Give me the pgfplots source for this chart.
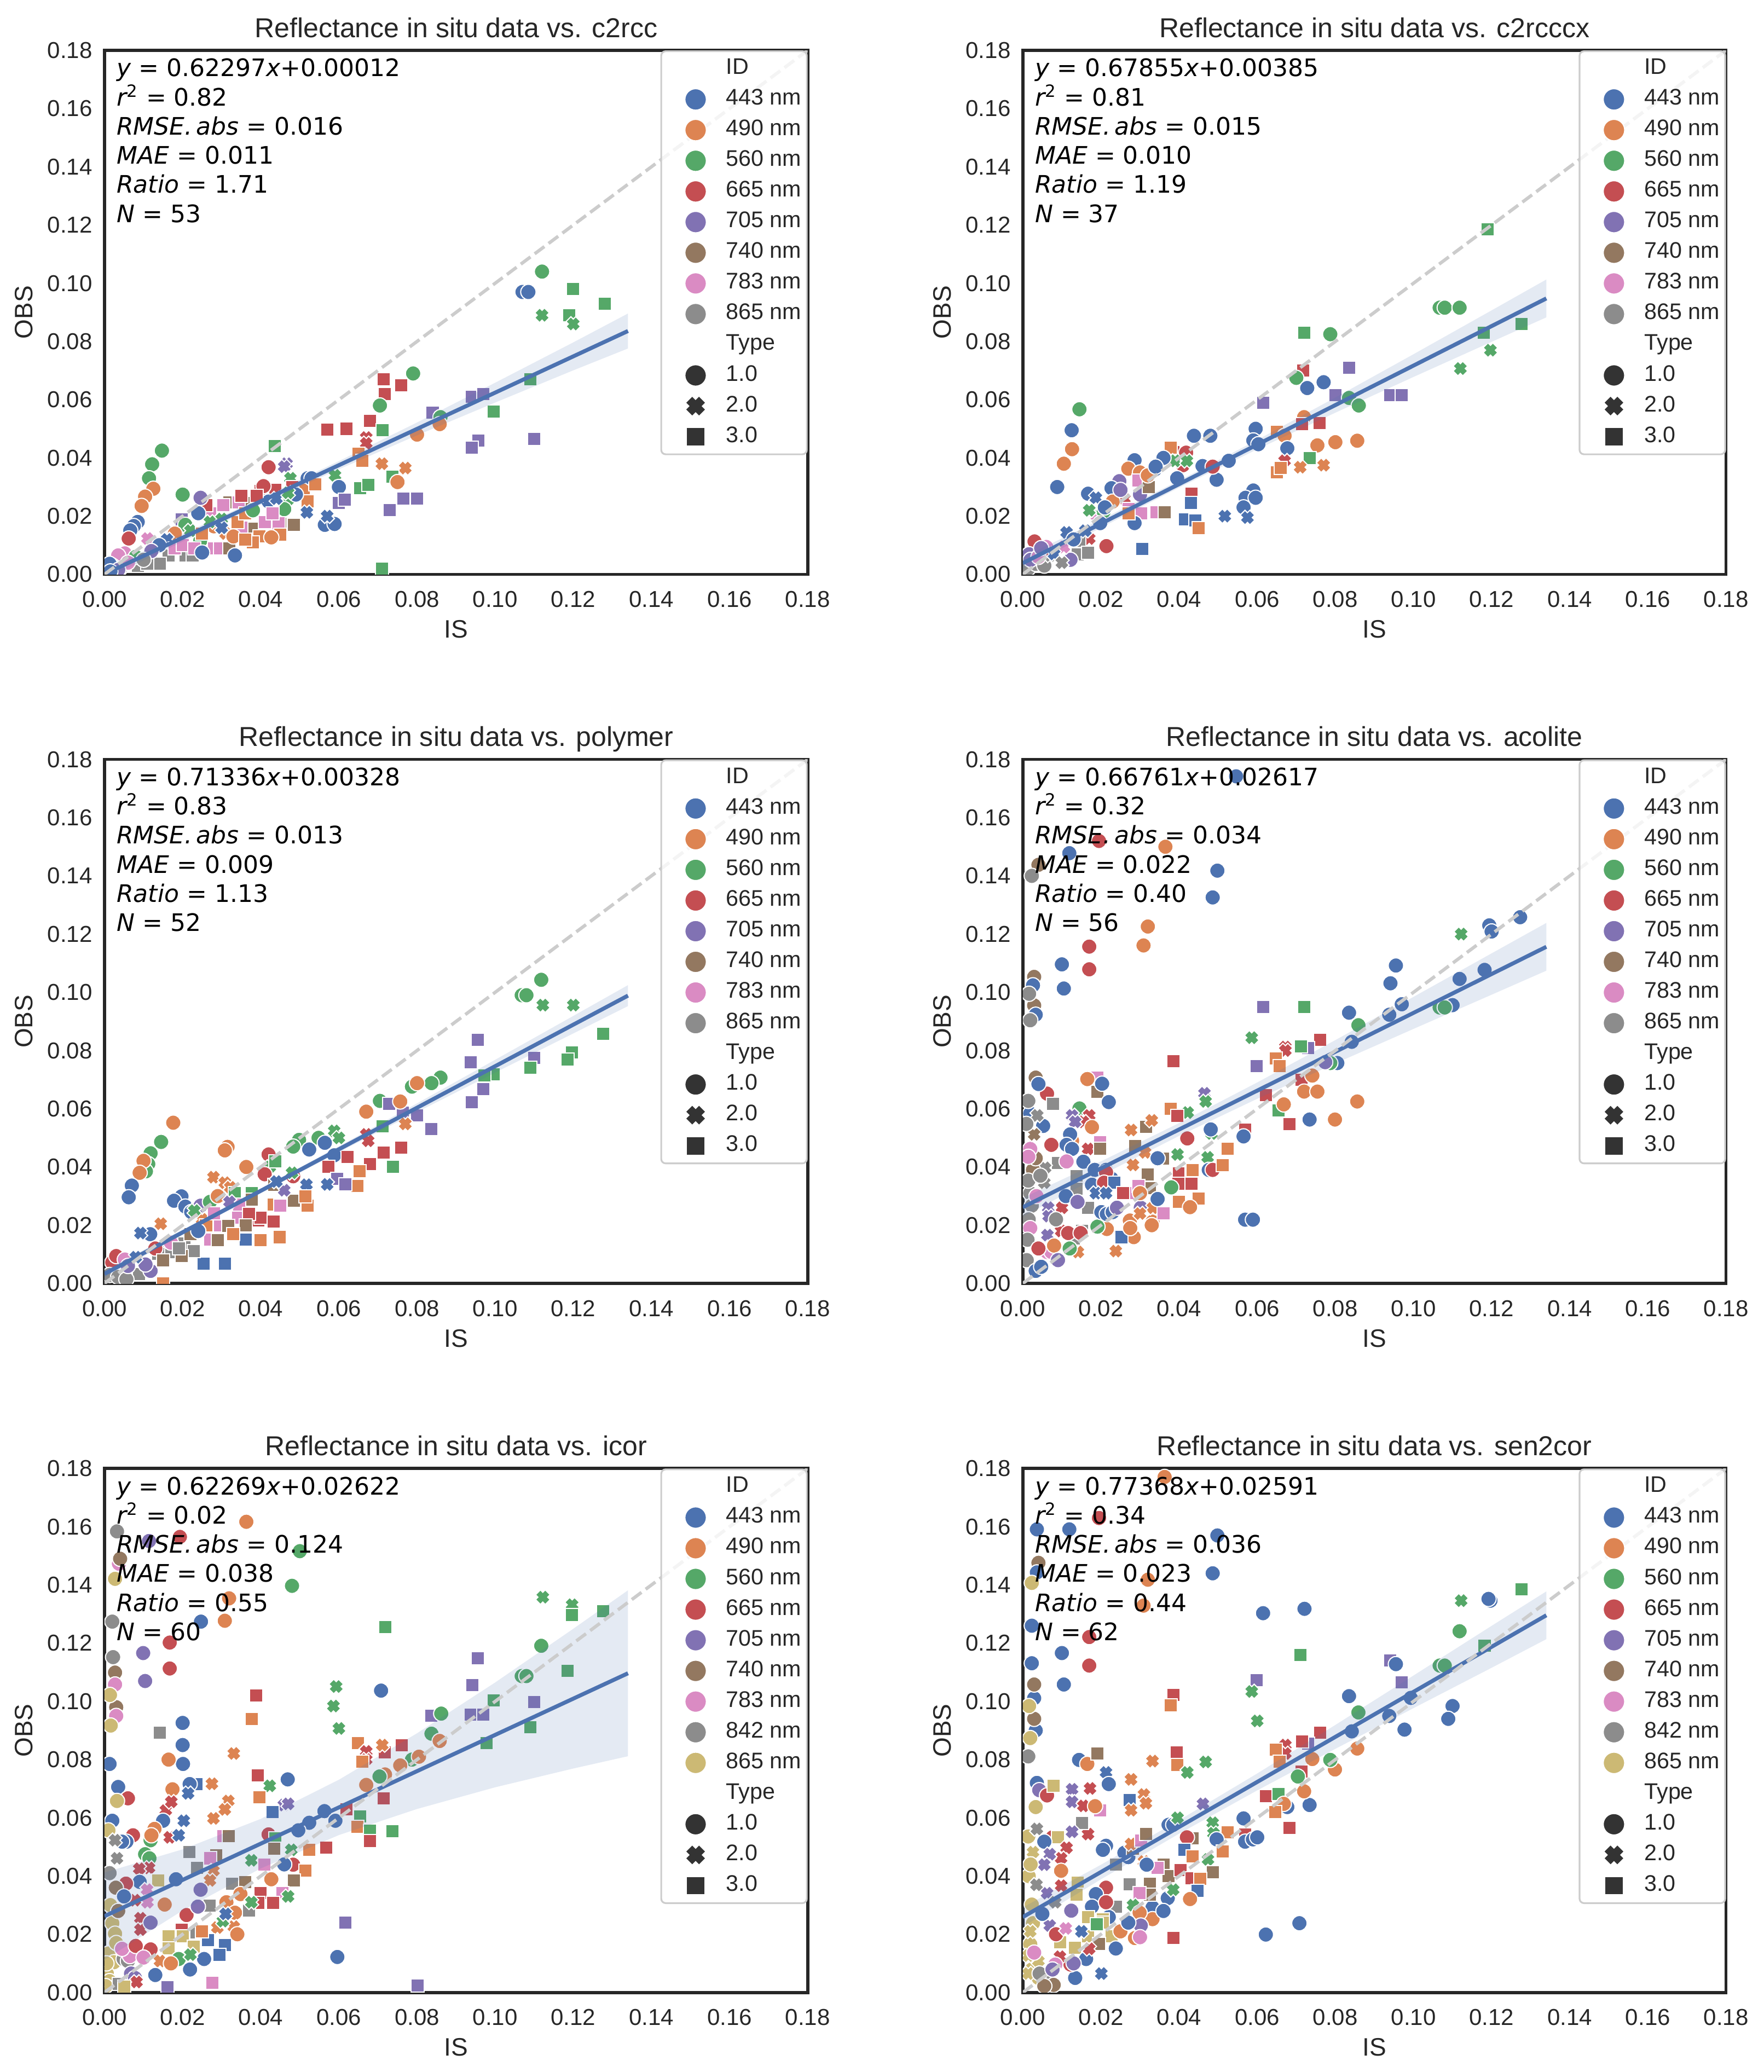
\documentclass[border=0pt]{standalone}
\usepackage{fontspec}
\setmainfont{Liberation Sans}
\newfontfamily\dejavu{DejaVu Sans}
\usepackage{pgfplots}
\usepackage{pgfplotstable}
\pgfplotsset{compat=1.18}
\definecolor{c443}{HTML}{4C72B0}
\definecolor{c490}{HTML}{DD8452}
\definecolor{c560}{HTML}{55A868}
\definecolor{c665}{HTML}{C44E52}
\definecolor{c705}{HTML}{8172B3}
\definecolor{c740}{HTML}{937860}
\definecolor{c783}{HTML}{DA8BC3}
\definecolor{cgray}{HTML}{8C8C8C}
\definecolor{colive}{HTML}{CCB974}
\definecolor{ctype}{HTML}{333333}
\definecolor{ctext}{HTML}{262626}
\pgfdeclareplotmark{Xfill}{%
  \pgfpathmoveto{\pgfqpoint{-0.3006\pgfplotmarksize}{0.9016\pgfplotmarksize}}%
  \pgfpathlineto{\pgfqpoint{0pt}{0.601\pgfplotmarksize}}%
  \pgfpathlineto{\pgfqpoint{0.3006\pgfplotmarksize}{0.9016\pgfplotmarksize}}%
  \pgfpathlineto{\pgfqpoint{0.9016\pgfplotmarksize}{0.3006\pgfplotmarksize}}%
  \pgfpathlineto{\pgfqpoint{0.601\pgfplotmarksize}{0pt}}%
  \pgfpathlineto{\pgfqpoint{0.9016\pgfplotmarksize}{-0.3006\pgfplotmarksize}}%
  \pgfpathlineto{\pgfqpoint{0.3006\pgfplotmarksize}{-0.9016\pgfplotmarksize}}%
  \pgfpathlineto{\pgfqpoint{0pt}{-0.601\pgfplotmarksize}}%
  \pgfpathlineto{\pgfqpoint{-0.3006\pgfplotmarksize}{-0.9016\pgfplotmarksize}}%
  \pgfpathlineto{\pgfqpoint{-0.9016\pgfplotmarksize}{-0.3006\pgfplotmarksize}}%
  \pgfpathlineto{\pgfqpoint{-0.601\pgfplotmarksize}{0pt}}%
  \pgfpathlineto{\pgfqpoint{-0.9016\pgfplotmarksize}{0.3006\pgfplotmarksize}}%
  \pgfpathclose
  \pgfusepathqfillstroke
}
\tikzset{
  mk1/.style={mark=*, mark size=3.5pt, line width=0.5pt, draw=white},
  mk2/.style={mark=Xfill, mark size=3.7pt, line width=0.5pt, draw=white},
  mk3/.style={mark=square*, mark size=3.0pt, line width=0.5pt, draw=white},
}
\pgfplotsset{
  allclasses/.style={scatter/classes={
    B1={mk1,fill=c443},B2={mk2,fill=c443},B3={mk3,fill=c443},
    O1={mk1,fill=c490},O2={mk2,fill=c490},O3={mk3,fill=c490},
    G1={mk1,fill=c560},G2={mk2,fill=c560},G3={mk3,fill=c560},
    R1={mk1,fill=c665},R2={mk2,fill=c665},R3={mk3,fill=c665},
    P1={mk1,fill=c705},P2={mk2,fill=c705},P3={mk3,fill=c705},
    N1={mk1,fill=c740},N2={mk2,fill=c740},N3={mk3,fill=c740},
    K1={mk1,fill=c783},K2={mk2,fill=c783},K3={mk3,fill=c783},
    Y1={mk1,fill=cgray},Y2={mk2,fill=cgray},Y3={mk3,fill=cgray},
    L1={mk1,fill=colive},L2={mk2,fill=colive},L3={mk3,fill=colive}}},
  legmark/.style={only marks, legend image code/.code={%
    \path[draw=none, fill=none] (-13.2pt,-5pt) rectangle (6pt,5pt);%
    \draw[##1, sharp corners, fill opacity=1, mark options={scale=1.4, fill opacity=1}] plot coordinates {(0pt,0pt)};}},
  panel/.style={
    scale only axis, width=321pt, height=239.2pt,
    xmin=0, xmax=0.18, ymin=0, ymax=0.18,
    xtick={0,0.02,0.04,0.06,0.08,0.1,0.12,0.14,0.16,0.18},
    ytick={0,0.02,0.04,0.06,0.08,0.1,0.12,0.14,0.16,0.18},
    xticklabels={0.00,0.02,0.04,0.06,0.08,0.10,0.12,0.14,0.16,0.18},
    yticklabels={0.00,0.02,0.04,0.06,0.08,0.10,0.12,0.14,0.16,0.18},
    major tick length=0pt,
    axis line style={draw=ctext, line width=1.4pt},
    tick label style={font=\fontsize{10.5}{12}\selectfont, text=ctext},
    xticklabel style={anchor=base, inner sep=0pt, yshift=-15pt},
    yticklabel style={anchor=east, inner sep=0pt, xshift=-5.4pt},
    every axis x label/.style={at={(axis description cs:0.5,0)}, anchor=base, yshift=-29pt, font=\fontsize{11.5}{13}\selectfont, text=ctext},
    every axis y label/.style={at={(axis description cs:-0.1146,0.5)}, rotate=90, anchor=center, font=\fontsize{11.5}{13}\selectfont, text=ctext},
    every axis title/.style={at={(axis description cs:0.5,1)}, anchor=base, yshift=6pt, font=\fontsize{12.5}{14}\selectfont, text=ctext},
    xlabel=IS, ylabel=OBS,
    clip marker paths=true,
    legend cell align=left,
    legend style={at={(1,1)}, anchor=north east, draw=black!20, fill=white, fill opacity=0.8, text opacity=1, draw opacity=1, rounded corners=2pt, line width=0.8pt, inner xsep=2.5pt, inner ysep=3pt, row sep=4.0pt, font=\fontsize{10.3}{12}\selectfont, text=ctext, nodes={inner sep=0pt, text height=7.5pt, text depth=2.5pt}, /tikz/every odd column/.append style={column sep=7.9pt}},
  },
  pts/.style={scatter, only marks, scatter src=explicit symbolic, allclasses, forget plot},
  band/.style={fill=c443, fill opacity=0.15, draw=none, forget plot},
  reg/.style={c443, line width=1.8pt, forget plot},
  oneone/.style={black!20, dash pattern=on 5.5pt off 2.4pt, line width=1.5pt, forget plot},
}
\newcommand{\legA}{%
  \addlegendimage{empty legend}\addlegendentry{ID}
  \addlegendimage{legmark,mk1,fill=c443}\addlegendentry{443 nm}
  \addlegendimage{legmark,mk1,fill=c490}\addlegendentry{490 nm}
  \addlegendimage{legmark,mk1,fill=c560}\addlegendentry{560 nm}
  \addlegendimage{legmark,mk1,fill=c665}\addlegendentry{665 nm}
  \addlegendimage{legmark,mk1,fill=c705}\addlegendentry{705 nm}
  \addlegendimage{legmark,mk1,fill=c740}\addlegendentry{740 nm}
  \addlegendimage{legmark,mk1,fill=c783}\addlegendentry{783 nm}
  \addlegendimage{legmark,mk1,fill=cgray}\addlegendentry{865 nm}
  \addlegendimage{empty legend}\addlegendentry{Type}
  \addlegendimage{legmark,mk1,fill=ctype}\addlegendentry{1.0}
  \addlegendimage{legmark,mk2,fill=ctype}\addlegendentry{2.0}
  \addlegendimage{legmark,mk3,fill=ctype}\addlegendentry{3.0}
}
\newcommand{\legB}{%
  \addlegendimage{empty legend}\addlegendentry{ID}
  \addlegendimage{legmark,mk1,fill=c443}\addlegendentry{443 nm}
  \addlegendimage{legmark,mk1,fill=c490}\addlegendentry{490 nm}
  \addlegendimage{legmark,mk1,fill=c560}\addlegendentry{560 nm}
  \addlegendimage{legmark,mk1,fill=c665}\addlegendentry{665 nm}
  \addlegendimage{legmark,mk1,fill=c705}\addlegendentry{705 nm}
  \addlegendimage{legmark,mk1,fill=c740}\addlegendentry{740 nm}
  \addlegendimage{legmark,mk1,fill=c783}\addlegendentry{783 nm}
  \addlegendimage{legmark,mk1,fill=cgray}\addlegendentry{842 nm}
  \addlegendimage{legmark,mk1,fill=colive}\addlegendentry{865 nm}
  \addlegendimage{empty legend}\addlegendentry{Type}
  \addlegendimage{legmark,mk1,fill=ctype}\addlegendentry{1.0}
  \addlegendimage{legmark,mk2,fill=ctype}\addlegendentry{2.0}
  \addlegendimage{legmark,mk3,fill=ctype}\addlegendentry{3.0}
}
\newcommand{\stats}[6]{%
  \node[anchor=north west, align=left, inner sep=0pt, font=\dejavu\fontsize{11}{13.3}\selectfont, text=black]
   at (axis description cs:0.0168,0.985)
   {{\itshape y} = #1\\{\itshape r}\textsuperscript{2} = #2\\{\itshape RMSE.\,abs} = #3\\{\itshape MAE} = #4\\{\itshape Ratio} = #5\\{\itshape N} = #6};}

% ---------------- data ----------------
\pgfplotstableread{
x y c
0.112 0.104 G1
0.107 0.097 B1
0.1085 0.097 B1
0.120 0.098 G3
0.128 0.093 G3
0.112 0.089 G2
0.119 0.089 G3
0.120 0.086 G2
0.079 0.069 G1
0.0715 0.067 R3
0.076 0.065 R3
0.0717 0.062 R3
0.109 0.067 G3
0.094 0.061 P3
0.097 0.062 P3
0.0705 0.058 G1
0.068 0.0527 R3
0.084 0.0555 P3
0.0996 0.056 G3
0.086 0.054 G1
0.0858 0.0516 O1
0.057 0.0498 R3
0.062 0.050 R3
0.0712 0.0495 G3
0.080 0.048 O1
0.067 0.047 R2
0.067 0.045 R2
0.0957 0.046 P3
0.094 0.0436 P3
0.110 0.0466 P3
0.065 0.0415 O3
0.066 0.039 O3
0.0436 0.044 G3
0.042 0.0368 R1
0.0466 0.038 P2
0.046 0.037 P2
0.071 0.038 O2
0.077 0.0365 O2
0.0737 0.0335 G3
0.075 0.0317 O1
0.052 0.033 B1
0.059 0.034 G2
0.060 0.030 B1
0.0655 0.0296 G3
0.0676 0.0307 G3
0.051 0.029 O3
0.052 0.025 O3
0.060 0.0245 P3
0.0615 0.0257 P3
0.0765 0.026 P3
0.080 0.026 P3
0.073 0.022 P3
0.0564 0.017 B1
0.0589 0.0173 B1
0.0518 0.0213 B2
0.057 0.020 B2
0.0476 0.033 G2
0.047 0.0257 G2
0.046 0.0224 G1
0.040 0.0286 R3
0.0437 0.029 R3
0.048 0.030 R3
0.0407 0.0303 R1
0.049 0.0274 B1
0.0485 0.017 N3
0.045 0.0173 N3
0.0377 0.0156 N3
0.041 0.018 K3
0.0445 0.0175 K3
0.035 0.016 K3
0.0397 0.013 O3
0.038 0.011 O3
0.045 0.0137 O3
0.0427 0.0127 O1
0.0358 0.0245 N3
0.032 0.0248 N3
0.0344 0.0248 K3
0.0304 0.0238 K3
0.027 0.021 K3
0.026 0.0238 R3
0.0246 0.0263 P1
0.020 0.0274 G1
0.0197 0.0188 P3
0.024 0.021 B1
0.0245 0.0115 G1
0.0207 0.017 G1
0.028 0.0089 K3
0.0296 0.0089 K3
0.032 0.0089 N3
0.028 0.0165 O1
0.031 0.014 O2
0.033 0.013 O1
0.0334 0.0065 B1
0.0207 0.0065 Y3
0.0226 0.0065 Y3
0.0164 0.0065 Y3
0.0142 0.0036 Y3
0.0086 0.0029 Y3
0.011 0.0036 Y3
0.0147 0.0425 G1
0.0122 0.0378 G1
0.0114 0.033 G1
0.0125 0.0294 O1
0.0104 0.0267 O1
0.0095 0.0235 O1
0.0085 0.018 B1
0.0075 0.0166 B1
0.0066 0.0151 B1
0.0062 0.0123 R1
0.011 0.0123 K2
0.0052 0.0072 K1
0.0035 0.0065 K1
0.002 0.003 Y1
0.004 0.002 Y1
0.0013 0.0036 B1
0.071 0.002 G3
0.018 0.014 O1
0.016 0.012 B2
0.022 0.015 G2
0.027 0.018 G2
0.030 0.019 G2
0.034 0.018 O3
0.036 0.021 O3
0.038 0.022 G1
0.042 0.025 B1
0.044 0.026 B2
0.039 0.027 R3
0.025 0.014 O3
0.014 0.010 B1
0.012 0.008 P1
0.008 0.006 G1
0.006 0.004 K1
0.010 0.005 Y1
0.018 0.009 K3
0.020 0.010 K3
0.023 0.009 K3
0.030 0.016 B2
0.035 0.027 R3
0.047 0.028 G2
0.053 0.033 B1
0.054 0.031 O3
0.043 0.021 K3
0.036 0.012 O3
0.025 0.0075 B1
0.0035 0.0015 P1
0.0015 0.001 B1
}\tA
\pgfplotstableread{
x y c
0.119 0.1186 G3
0.1067 0.0916 G1
0.108 0.0916 G1
0.1118 0.0916 G1
0.1276 0.086 G3
0.118 0.083 G3
0.1197 0.077 G2
0.112 0.0707 G2
0.072 0.083 G3
0.0787 0.0825 G1
0.0835 0.071 P3
0.0717 0.070 R3
0.070 0.0675 G1
0.077 0.066 B1
0.0728 0.064 B1
0.080 0.0616 P3
0.094 0.0616 P3
0.097 0.0616 P3
0.0835 0.0606 G1
0.086 0.058 G1
0.0615 0.0589 P3
0.0145 0.0567 G1
0.0125 0.0495 B1
0.0596 0.050 B1
0.059 0.046 B1
0.0603 0.0447 B1
0.0438 0.0476 B1
0.048 0.0476 B1
0.065 0.049 O3
0.067 0.0476 O1
0.072 0.054 O1
0.0715 0.0516 R3
0.076 0.052 R3
0.0126 0.043 O1
0.0105 0.038 O1
0.0677 0.0433 B1
0.0754 0.0443 O1
0.080 0.0454 O1
0.0856 0.0459 O1
0.0735 0.040 G3
0.0385 0.042 R3
0.0378 0.0436 O3
0.0418 0.0418 R1
0.041 0.0375 R1
0.039 0.039 G2
0.042 0.039 G2
0.046 0.0372 B1
0.0527 0.039 B1
0.0286 0.0392 B1
0.0338 0.036 B1
0.0395 0.033 B1
0.0496 0.0325 B1
0.067 0.039 R2
0.071 0.0368 O2
0.077 0.0375 O2
0.065 0.035 O3
0.066 0.0365 O3
0.0486 0.037 R1
0.027 0.0363 O1
0.030 0.035 O1
0.0247 0.032 P1
0.024 0.0277 P1
0.030 0.0274 P1
0.0296 0.0323 K3
0.0323 0.030 N3
0.0088 0.030 B1
0.0167 0.0277 B1
0.0227 0.0296 B1
0.0187 0.0263 B2
0.0432 0.0277 R3
0.043 0.0245 B3
0.026 0.026 R2
0.059 0.0288 B1
0.057 0.0263 B1
0.0596 0.0263 B1
0.0565 0.023 B1
0.0517 0.020 B2
0.0575 0.0195 B2
0.0415 0.0188 B3
0.0442 0.0185 B3
0.045 0.0159 O3
0.019 0.021 K3
0.0303 0.021 K3
0.0342 0.0213 K3
0.027 0.0224 K3
0.0363 0.0213 N3
0.0207 0.0216 G1
0.0286 0.0176 B1
0.0198 0.0176 B1
0.027 0.021 O3
0.0306 0.0087 B3
0.0112 0.0144 B2
0.003 0.0113 R1
0.0214 0.0097 R1
0.017 0.0123 R2
0.0144 0.0115 Y3
0.014 0.0069 Y3
0.0167 0.0075 Y3
0.0016 0.0069 P1
0.0122 0.005 P1
0.0105 0.0094 K2
0.006 0.0094 K1
0.0014 0.002 Y1
0.0033 0.0036 Y1
0.0055 0.003 Y1
0.007 0.0065 Y2
0.002 0.005 P1
0.005 0.008 R1
0.008 0.007 B2
0.013 0.012 B1
0.016 0.015 B2
0.010 0.004 Y2
0.004 0.006 K1
0.023 0.025 O1
0.025 0.029 P1
0.032 0.034 O1
0.036 0.040 B1
0.034 0.037 B1
0.0047 0.009 P1
0.017 0.022 G2
0.021 0.023 B1
}\tB
\pgfplotstableread{
x y c
0.1118 0.1043 G1
0.1068 0.099 G1
0.108 0.099 G1
0.1122 0.0956 G2
0.120 0.0956 G2
0.1276 0.0858 G3
0.1196 0.0793 G3
0.1186 0.0769 G3
0.0955 0.0837 P3
0.0938 0.076 P3
0.110 0.0775 P3
0.0996 0.0718 G3
0.0973 0.0714 G3
0.109 0.074 G3
0.097 0.0668 P3
0.094 0.0623 P3
0.086 0.0707 G1
0.0837 0.0688 G1
0.0787 0.0676 G1
0.080 0.0688 O1
0.0705 0.0627 G1
0.0728 0.0616 P3
0.0764 0.0587 P3
0.080 0.0577 P3
0.0836 0.053 P3
0.067 0.059 O1
0.0757 0.0625 O1
0.077 0.0548 O2
0.0712 0.054 G3
0.067 0.0512 R2
0.0675 0.049 R2
0.0588 0.0524 G2
0.060 0.050 G2
0.0548 0.050 G1
0.0498 0.0493 G1
0.0483 0.047 G1
0.0524 0.046 B1
0.0564 0.0483 B1
0.0588 0.044 B1
0.0622 0.0435 R3
0.0573 0.040 R3
0.068 0.041 R3
0.0715 0.045 R3
0.076 0.0466 R3
0.0738 0.040 G3
0.0653 0.0385 O3
0.0647 0.0335 O3
0.0596 0.036 P3
0.0616 0.034 P3
0.057 0.034 B2
0.0517 0.0339 B2
0.0176 0.0552 O1
0.0145 0.0486 G1
0.0118 0.0447 G1
0.0112 0.041 G1
0.0106 0.0385 G1
0.010 0.0421 O1
0.009 0.038 O1
0.007 0.0336 B1
0.0062 0.0296 B1
0.0315 0.0469 O1
0.0308 0.0457 O1
0.042 0.0443 R1
0.0363 0.040 O1
0.0423 0.040 G2
0.0437 0.042 G3
0.0197 0.0299 B1
0.0178 0.0284 B1
0.0207 0.0264 B1
0.0222 0.0245 B1
0.0279 0.0365 O2
0.0308 0.0346 O2
0.0322 0.033 O2
0.041 0.0375 R1
0.0483 0.0368 R1
0.0334 0.031 G3
0.0377 0.031 G3
0.0435 0.0339 N3
0.0377 0.0288 N3
0.0485 0.0284 N3
0.0433 0.027 O3
0.052 0.0267 O3
0.0514 0.0299 O3
0.045 0.0267 K3
0.0345 0.027 K3
0.0342 0.0226 K3
0.0296 0.020 K3
0.027 0.0151 K3
0.0394 0.0216 R3
0.0399 0.0225 R3
0.0433 0.0212 R3
0.0370 0.0238 R3
0.0361 0.020 N3
0.0317 0.0198 N3
0.029 0.0149 N3
0.0246 0.0267 P1
0.0361 0.0151 B3
0.0308 0.0068 B3
0.0253 0.0068 B3
0.0399 0.0149 O3
0.0449 0.0159 O3
0.0117 0.0169 B1
0.0092 0.0173 B2
0.0144 0.0205 O2
0.0204 0.0137 Y3
0.0165 0.0108 Y3
0.0229 0.0111 Y3
0.0138 0.0101 Y3
0.0088 0.0033 Y3
0.0197 0.0094 N3
0.002 0.0072 R1
0.003 0.0094 R1
0.0052 0.0082 K1
0.0118 0.0043 P1
0.0105 0.0065 P1
0.0013 0.0029 Y1
0.0035 0.0022 Y1
0.0056 0.0014 Y1
0.015 0.0001 O3
0.025 0.022 O2
0.023 0.025 G2
0.027 0.028 G1
0.029 0.030 O1
0.032 0.028 P2
0.046 0.032 P2
0.048 0.038 G2
0.044 0.035 B2
0.022 0.017 N3
0.026 0.020 O3
0.017 0.014 K1
0.013 0.012 R1
0.008 0.009 B2
0.006 0.006 P1
0.015 0.008 N3
0.019 0.012 Y3
0.024 0.018 B1
0.033 0.017 O3
0.028 0.024 K3
}\tC
\pgfplotstableread{
x y c
0.0546 0.1742 B1
0.0195 0.152 R1
0.0365 0.150 O1
0.0119 0.1478 B1
0.004 0.1438 N1
0.0023 0.140 Y1
0.0498 0.1418 B1
0.0486 0.1326 B1
0.032 0.1226 O1
0.0309 0.1161 O1
0.017 0.1157 R1
0.017 0.1079 R1
0.010 0.1096 B1
0.0105 0.1013 B1
0.0029 0.1053 N1
0.0029 0.0955 N1
0.0026 0.1024 B1
0.0033 0.0923 B1
0.0016 0.0995 Y1
0.0019 0.0904 Y1
0.1273 0.1258 B1
0.1194 0.123 B1
0.120 0.1209 B1
0.1122 0.120 G2
0.0955 0.1092 B1
0.0941 0.1031 B1
0.1118 0.1046 B1
0.1182 0.1077 B1
0.097 0.0959 B1
0.0938 0.0923 B1
0.110 0.0956 B1
0.1067 0.0948 G1
0.108 0.0948 G1
0.0835 0.093 B1
0.0859 0.0887 G1
0.0842 0.083 B1
0.0805 0.0757 B1
0.0615 0.0949 P3
0.0721 0.0949 G3
0.0586 0.0844 G2
0.0761 0.0837 R3
0.0672 0.0812 R2
0.0672 0.080 R2
0.073 0.0808 P3
0.0712 0.0815 G3
0.0648 0.0772 O3
0.0658 0.0747 O3
0.0598 0.0746 P3
0.0787 0.0757 G1
0.0774 0.076 P1
0.0386 0.0764 R3
0.0714 0.070 R3
0.0741 0.0714 O1
0.072 0.0659 O1
0.0754 0.0659 O1
0.0622 0.0646 R3
0.0856 0.0625 O1
0.0654 0.0594 G3
0.0668 0.0615 O1
0.0799 0.0563 O1
0.0734 0.0563 B1
0.0682 0.0548 R3
0.0465 0.0653 P2
0.0468 0.0625 G2
0.0422 0.0587 G2
0.0378 0.0599 O3
0.0395 0.0576 R3
0.0569 0.0529 R3
0.0483 0.0515 G2
0.0481 0.0529 B1
0.0565 0.0505 B1
0.0421 0.0498 R1
0.0524 0.0462 O3
0.0316 0.0538 N3
0.0277 0.0527 O2
0.0330 0.056 O2
0.0287 0.0472 N3
0.0396 0.0443 G2
0.0473 0.0433 G2
0.0359 0.0428 N3
0.0313 0.045 O2
0.0282 0.0407 O2
0.0476 0.039 B1
0.0345 0.043 B1
0.0486 0.039 R1
0.0511 0.0407 O3
0.040 0.0378 R3
0.0432 0.0378 R3
0.0398 0.0343 R3
0.0432 0.0343 R3
0.0435 0.039 O3
0.032 0.0375 N3
0.0325 0.0327 N3
0.040 0.0281 O3
0.045 0.0291 O3
0.0428 0.0262 O1
0.0332 0.0212 O1
0.0274 0.0216 O1
0.0215 0.0187 O1
0.0284 0.0159 O1
0.0569 0.0219 B1
0.0589 0.0219 B1
0.0238 0.0111 O2
0.0141 0.0108 O2
0.0253 0.0159 B3
0.0191 0.0195 G1
0.0191 0.0707 K3
0.0198 0.0486 K3
0.0277 0.031 K3
0.0296 0.0335 K3
0.0191 0.0659 N3
0.0165 0.0702 O1
0.022 0.0623 B1
0.0203 0.0686 B1
0.0145 0.0601 G1
0.0062 0.0652 R1
0.0078 0.0617 Y3
0.0033 0.0707 N1
0.004 0.0685 B1
0.0052 0.0541 B1
0.0019 0.0584 B1
0.017 0.0577 R2
0.0155 0.0555 R2
0.0126 0.0577 P2
0.0134 0.0555 P2
0.0177 0.0537 O1
0.0126 0.049 O1
0.0121 0.0512 B1
0.0112 0.0476 B1
0.0126 0.0462 B1
0.0073 0.0476 R1
0.0167 0.0462 R2
0.0198 0.0462 N3
0.0155 0.0418 B1
0.0184 0.039 B1
0.0213 0.039 B1
0.0177 0.0339 B1
0.0227 0.036 B1
0.009 0.0414 Y3
0.0138 0.0368 Y3
0.0138 0.0325 Y3
0.0167 0.026 Y3
0.0151 0.018 Y3
0.0131 0.0155 Y3
0.0112 0.0419 K1
0.0213 0.0382 R1
0.0208 0.0346 R1
0.0234 0.0346 B3
0.0256 0.031 R3
0.0187 0.031 B2
0.0213 0.031 B2
0.0201 0.0245 B1
0.0215 0.0238 B1
0.023 0.0245 B1
0.0241 0.026 P1
0.0302 0.026 P1
0.0333 0.026 O2
0.010 0.026 R2
0.0098 0.018 R2
0.0065 0.026 P2
0.0066 0.0231 P2
0.0063 0.0166 P2
0.0116 0.0173 R1
0.0148 0.0173 R1
0.0062 0.0108 K1
0.0073 0.0108 K1
0.0057 0.0397 Y2
0.0055 0.0346 Y2
0.0026 0.039 N1
0.0033 0.043 N1
0.0019 0.031 Y1
0.0014 0.0353 Y1
0.0023 0.0267 Y1
0.0015 0.022 Y1
0.0019 0.019 K1
0.0012 0.015 Y1
0.0010 0.008 Y1
0.0019 0.0462 K1
0.0014 0.0435 K1
0.0029 0.0512 N2
0.0037 0.0577 Y2
0.0009 0.0548 Y1
0.0014 0.0627 Y1
0.0033 0.0043 B1
0.0047 0.0057 B1
0.008 0.013 O1
0.009 0.008 P1
0.004 0.012 R1
0.0035 0.030 K1
0.0045 0.037 Y1
0.0110 0.030 B1
0.0140 0.028 P1
0.0085 0.022 Y1
0.012 0.012 G1
0.0345 0.029 B1
0.030 0.024 O2
0.036 0.024 K3
0.033 0.020 O1
0.0275 0.019 O1
0.038 0.033 G1
0.030 0.031 O1
}\tD
\pgfplotstableread{
x y c
0.0363 0.1617 O1
0.0032 0.1584 Y1
0.0193 0.1565 R1
0.0114 0.1551 P1
0.050 0.1516 G1
0.0037 0.1473 K1
0.004 0.149 N1
0.0027 0.1421 L1
0.048 0.1397 G1
0.0319 0.1354 O1
0.002 0.1274 Y1
0.0247 0.1274 B1
0.0308 0.1277 O1
0.0167 0.1202 R1
0.0167 0.1113 R1
0.0099 0.1166 P1
0.0104 0.107 P1
0.0022 0.1152 Y1
0.0027 0.1099 N1
0.003 0.098 N1
0.0027 0.1058 K1
0.003 0.095 K1
0.0014 0.1022 L1
0.0016 0.0917 L1
0.1122 0.1358 G2
0.1197 0.1332 G2
0.1196 0.1296 G3
0.1276 0.131 G3
0.0719 0.1256 G3
0.1118 0.1191 G1
0.0955 0.1148 P3
0.0941 0.1056 P3
0.1068 0.1087 G1
0.108 0.1087 G1
0.1186 0.1105 G3
0.0708 0.1037 B1
0.0593 0.1051 G2
0.0586 0.0984 G2
0.060 0.0907 G2
0.0388 0.102 R3
0.0377 0.094 O3
0.0142 0.0893 Y3
0.020 0.0926 B1
0.020 0.085 B1
0.0201 0.0785 B1
0.0164 0.080 O1
0.0013 0.0785 B1
0.0331 0.0821 O2
0.0996 0.1004 G3
0.110 0.0998 P3
0.0837 0.095 P3
0.0938 0.0955 P3
0.097 0.0955 P3
0.0862 0.0958 G1
0.0837 0.0889 G1
0.0858 0.0864 O1
0.109 0.0912 G3
0.0978 0.0857 G3
0.0649 0.0857 O3
0.0761 0.085 R3
0.0718 0.0825 R3
0.0711 0.085 O2
0.067 0.0828 R2
0.067 0.080 R2
0.066 0.0792 O3
0.0787 0.080 G1
0.0805 0.081 O1
0.0757 0.078 O1
0.0718 0.0749 O1
0.067 0.0713 O1
0.0704 0.0742 G1
0.0469 0.0732 B1
0.0393 0.0746 R3
0.0235 0.0716 B3
0.0218 0.0716 B1
0.0275 0.0717 O2
0.0423 0.071 G2
0.0035 0.0706 B1
0.006 0.0667 R1
0.0032 0.0658 L1
0.0174 0.0698 O1
0.0214 0.0684 B2
0.0715 0.0667 R3
0.0397 0.067 O3
0.0459 0.0644 P2
0.047 0.0648 P2
0.0317 0.0658 O2
0.0308 0.0629 O2
0.043 0.0619 B3
0.0157 0.0626 R2
0.0171 0.0655 R2
0.062 0.0629 R3
0.0563 0.0623 B1
0.0524 0.0583 B1
0.0591 0.059 B1
0.0496 0.0557 B1
0.0655 0.0605 G3
0.0203 0.059 B2
0.0279 0.0598 O2
0.015 0.059 B1
0.002 0.059 B1
0.0128 0.0562 O1
0.0647 0.0569 O3
0.0737 0.0554 G3
0.068 0.0555 G3
0.0679 0.0521 R3
0.0073 0.054 R1
0.0167 0.0533 R2
0.019 0.054 B2
0.001 0.0557 L1
0.0118 0.0523 G1
0.012 0.054 O1
0.0056 0.0518 B1
0.0045 0.0518 B1
0.0027 0.0523 Y2
0.0032 0.0461 Y2
0.0304 0.0537 K3
0.0318 0.0537 N3
0.0568 0.0497 R3
0.0524 0.049 O3
0.042 0.0543 R1
0.0437 0.0529 G3
0.0217 0.0482 Y3
0.0286 0.0471 N3
0.0435 0.0494 N3
0.027 0.0461 K3
0.0478 0.049 G2
0.0376 0.0454 G2
0.0104 0.0475 G1
0.0115 0.0461 G1
0.0483 0.0439 R1
0.046 0.044 B1
0.0409 0.0439 K3
0.0514 0.0418 O3
0.0114 0.0428 R2
0.0089 0.0425 R2
0.0237 0.0428 Y3
0.0279 0.0418 O2
0.0013 0.041 Y1
0.0138 0.0385 L3
0.0485 0.0385 N3
0.036 0.038 N3
0.0427 0.0389 O1
0.0327 0.0374 Y3
0.0183 0.0389 B1
0.009 0.038 B1
0.027 0.0385 O2
0.0055 0.0374 R1
0.0029 0.036 N1
0.0109 0.0353 K2
0.0455 0.0341 K3
0.0246 0.0353 P1
0.0399 0.0341 R3
0.0394 0.0307 R3
0.0432 0.0307 R3
0.0348 0.0338 O1
0.0312 0.031 O1
0.0334 0.0274 O1
0.037 0.0281 Y3
0.0269 0.0298 Y3
0.047 0.033 G2
0.0078 0.0317 R2
0.0092 0.0255 R2
0.0092 0.0216 R2
0.011 0.031 K2
0.021 0.0266 R1
0.0239 0.0295 P1
0.0118 0.024 P1
0.0154 0.0302 O1
0.0376 0.031 G2
0.002 0.0238 L1
0.0027 0.0202 L1
0.001 0.0134 L1
0.0024 0.0104 L1
0.0331 0.0226 O2
0.0289 0.0223 O2
0.0303 0.0245 G2
0.0197 0.0216 R3
0.0164 0.0194 L3
0.020 0.0194 L3
0.0164 0.0151 L3
0.0229 0.0158 L3
0.0236 0.0206 Y3
0.0308 0.0163 B3
0.0265 0.018 B3
0.0255 0.0115 B1
0.0219 0.0079 B1
0.019 0.0115 G1
0.0118 0.0148 R1
0.0142 0.0108 O2
0.0049 0.0115 Y1
0.006 0.0108 Y1
0.0065 0.0125 K1
0.0068 0.0065 P1
0.0078 0.005 P1
0.0082 0.0036 R2
0.0161 0.0019 P3
0.0276 0.0033 K3
0.0801 0.0024 P3
0.0596 0.0122 B1
0.0616 0.024 P3
0.0006 0.0065 L1
0.0013 0.0039 L1
0.0003 0.0022 L1
0.0037 0.0029 Y3
0.003 0.017 L1
0.0045 0.015 K1
0.0015 0.030 L1
0.0035 0.028 N1
0.005 0.033 B1
0.008 0.016 R1
0.010 0.012 K1
0.013 0.006 B1
0.017 0.010 O1
0.022 0.013 G2
0.025 0.021 O3
0.031 0.027 B2
0.034 0.020 O1
0.0295 0.013 B3
0.005 0.002 L3
0.0005 0.010 L1
}\tE
\pgfplotstableread{
x y c
0.0363 0.1771 O1
0.0195 0.163 R1
0.0036 0.1591 B1
0.0119 0.1591 B1
0.0498 0.157 B1
0.004 0.1476 N1
0.0036 0.1443 B1
0.0486 0.144 B1
0.032 0.1418 O1
0.0023 0.1407 L1
0.0309 0.1329 O1
0.0615 0.1303 B1
0.0721 0.1318 B1
0.0023 0.126 B1
0.017 0.1221 R1
0.017 0.1123 R1
0.010 0.1166 B1
0.0105 0.1058 B1
0.0023 0.1131 B1
0.0029 0.1011 B1
0.0033 0.09 B1
0.0029 0.1058 N1
0.0029 0.094 N1
0.0016 0.0984 L1
0.0019 0.0874 L1
0.0014 0.0811 Y1
0.1276 0.1385 G3
0.1197 0.1346 B1
0.1192 0.1352 B1
0.1122 0.1346 G2
0.1118 0.1241 G1
0.1182 0.1191 G3
0.1067 0.1123 G1
0.108 0.1123 G1
0.071 0.1159 G3
0.0941 0.1141 P3
0.0955 0.1128 B1
0.097 0.1066 P3
0.0598 0.1073 P3
0.0586 0.1034 G2
0.0835 0.1018 B1
0.0993 0.1012 B1
0.110 0.0984 B1
0.1089 0.094 B1
0.0938 0.095 B1
0.0977 0.0903 B1
0.0842 0.0897 B1
0.0859 0.0962 G1
0.060 0.0933 G2
0.0386 0.1022 R3
0.0378 0.0986 O3
0.0761 0.0893 R3
0.0672 0.085 R2
0.0672 0.0821 R2
0.073 0.0855 P3
0.0715 0.0862 R3
0.0648 0.0835 O3
0.0658 0.0792 O3
0.0741 0.0802 O1
0.0799 0.0766 O1
0.0856 0.0838 O1
0.0787 0.0799 G1
0.0394 0.0824 R3
0.0396 0.0782 O3
0.0332 0.0795 O2
0.0468 0.0792 G2
0.0421 0.0756 G2
0.0144 0.0799 B1
0.0165 0.0785 O1
0.0191 0.0821 N3
0.0213 0.0756 B2
0.022 0.0716 B1
0.0714 0.0759 R3
0.0704 0.0742 G1
0.0277 0.0732 O2
0.0622 0.0674 R3
0.0655 0.0681 G3
0.0677 0.0637 B1
0.0734 0.0644 B1
0.0668 0.0648 O1
0.072 0.0691 O1
0.0646 0.0619 O3
0.0682 0.0565 R3
0.0036 0.072 B1
0.0045 0.0691 B1
0.0042 0.0695 P1
0.0062 0.0677 R1
0.0079 0.071 L3
0.0126 0.0698 P2
0.0172 0.0701 R2
0.0126 0.0655 P2
0.0155 0.0641 R2
0.0167 0.0544 R2
0.0274 0.0662 B3
0.0310 0.068 O2
0.0315 0.065 O2
0.0277 0.0626 O2
0.0198 0.0626 K3
0.0185 0.064 O1
0.0461 0.0648 P2
0.0373 0.0576 B1
0.0385 0.0576 B1
0.0396 0.060 G2
0.0151 0.0583 Y3
0.0033 0.0637 L1
0.0014 0.0536 L1
0.0036 0.0562 Y2
0.0126 0.0552 P2
0.0213 0.0504 B1
0.0205 0.049 B1
0.0076 0.0533 R1
0.009 0.0533 L3
0.0055 0.0518 B1
0.0112 0.0497 R2
0.0098 0.0461 R2
0.0069 0.0475 P2
0.0055 0.0439 P2
0.0026 0.0482 L2
0.027 0.0465 B1
0.026 0.048 B1
0.0282 0.0493 N3
0.0277 0.051 O2
0.0303 0.0523 K3
0.0316 0.0544 N3
0.0524 0.055 O3
0.0569 0.0543 R3
0.0435 0.053 N3
0.042 0.0533 R1
0.0486 0.0583 G2
0.0488 0.0547 G2
0.0496 0.0526 B1
0.0565 0.0598 B1
0.0569 0.0518 B1
0.0589 0.0526 B1
0.060 0.0533 B1
0.0414 0.049 B3
0.0435 0.0468 O3
0.0511 0.0485 O3
0.0474 0.0457 G2
0.0098 0.0418 O1
0.0238 0.0439 Y3
0.0361 0.0439 N3
0.0373 0.0399 N3
0.0486 0.0413 N3
0.0310 0.045 O2
0.0345 0.0428 K3
0.0404 0.042 R3
0.0432 0.0393 R3
0.0454 0.039 O3
0.0317 0.0439 B1
0.0371 0.0324 B1
0.0332 0.0292 B1
0.0447 0.0349 B3
0.0385 0.0353 G2
0.0428 0.0321 O1
0.0141 0.0377 L3
0.0138 0.0336 L3
0.0098 0.0367 R2
0.0273 0.0372 Y3
0.0238 0.0295 Y3
0.0325 0.0374 N3
0.0325 0.0336 N3
0.0299 0.0341 K3
0.0213 0.036 R1
0.0282 0.030 G2
0.0062 0.0341 P2
0.0069 0.023 P2
0.0083 0.031 Y2
0.0124 0.0281 P1
0.0187 0.0338 B1
0.0177 0.0295 B1
0.022 0.0259 B1
0.0213 0.031 R1
0.0167 0.0259 L3
0.0205 0.0252 L3
0.0205 0.024 L3
0.0167 0.0194 L3
0.0134 0.0154 L3
0.0095 0.0173 L3
0.0227 0.0194 L3
0.0190 0.0235 G3
0.0195 0.0166 N3
0.0287 0.0187 O1
0.0332 0.0252 O1
0.0299 0.0274 O1
0.0302 0.023 P1
0.0238 0.0151 B1
0.0162 0.0115 B1
0.0134 0.005 B1
0.0201 0.0065 B2
0.0122 0.0096 R1
0.0095 0.0123 R2
0.0386 0.0187 R3
0.0622 0.0199 B1
0.0708 0.0238 B1
0.0023 0.0302 L1
0.0026 0.0238 L1
0.0019 0.0166 L1
0.0023 0.0079 L1
0.004 0.005 L1
0.0019 0.021 L2
0.0014 0.0127 L2
0.004 0.0108 L2
0.0014 0.0065 L2
0.0057 0.005 Y1
0.0043 0.0065 Y1
0.0079 0.0026 N1
0.0055 0.0022 N1
0.0083 0.0096 K1
0.0029 0.0137 K1
0.0076 0.0079 P1
0.0015 0.040 L1
0.002 0.044 L1
0.0035 0.037 Y2
0.005 0.027 B1
0.0085 0.020 R1
0.011 0.022 K2
0.015 0.021 B2
0.013 0.010 P1
0.017 0.015 R2
0.025 0.021 O1
0.027 0.024 B1
0.036 0.028 B1
0.030 0.019 K1
}\tF

\begin{document}
\begin{tikzpicture}
\path[use as bounding box] (0,0) rectangle (805.1pt,945.9pt);

% ---- panel 1 ----
\begin{axis}[panel, at={(47.7pt,922.9pt)}, anchor=north west, title={Reflectance in situ data vs. c2rcc}]
\addplot[pts] table[meta=c] {\tA};
\addplot[band] coordinates {(0,0.00192)(0.02,0.01388)(0.04,0.02614)(0.06,0.0389)(0.08,0.05216)(0.10,0.06582)(0.12,0.07968)(0.134,0.0896)(0.134,0.0776)(0.12,0.07008)(0.10,0.05902)(0.08,0.04776)(0.06,0.0361)(0.04,0.02394)(0.02,0.01128)(0,-0.00168)} --cycle;
\addplot[reg] coordinates {(0,0.00012)(0.134,0.08360)};
\addplot[oneone] coordinates {(0,0)(0.18,0.18)};
\stats{0.62297{\itshape x}+0.00012}{0.82}{0.016}{0.011}{1.71}{53}
\legA
\end{axis}

% ---- panel 2 ----
\begin{axis}[panel, at={(466.9pt,922.9pt)}, anchor=north west, title={Reflectance in situ data vs. c2rcccx}]
\addplot[pts] table[meta=c] {\tB};
\addplot[band] coordinates {(0,0.00585)(0.02,0.01882)(0.04,0.03219)(0.06,0.04616)(0.08,0.06073)(0.10,0.07561)(0.12,0.09068)(0.134,0.10128)(0.134,0.08828)(0.12,0.07988)(0.10,0.06781)(0.08,0.05553)(0.06,0.04296)(0.04,0.02979)(0.02,0.01602)(0,0.00185)} --cycle;
\addplot[reg] coordinates {(0,0.00385)(0.134,0.09478)};
\addplot[oneone] coordinates {(0,0)(0.18,0.18)};
\stats{0.67855{\itshape x}+0.00385}{0.81}{0.015}{0.010}{1.19}{37}
\legA
\end{axis}

% ---- panel 3 ----
\begin{axis}[panel, at={(47.7pt,599.2pt)}, anchor=north west, title={Reflectance in situ data vs. polymer}]
\addplot[pts] table[meta=c] {\tC};
\addplot[band] coordinates {(0,0.00448)(0.02,0.01845)(0.04,0.03261)(0.06,0.04708)(0.08,0.06185)(0.10,0.07682)(0.12,0.09188)(0.134,0.10247)(0.134,0.09527)(0.12,0.08588)(0.10,0.07242)(0.08,0.05885)(0.06,0.04508)(0.04,0.03101)(0.02,0.01665)(0,0.00208)} --cycle;
\addplot[reg] coordinates {(0,0.00328)(0.134,0.09887)};
\addplot[oneone] coordinates {(0,0)(0.18,0.18)};
\stats{0.71336{\itshape x}+0.00328}{0.83}{0.013}{0.009}{1.13}{52}
\legA
\end{axis}

% ---- panel 4 ----
\begin{axis}[panel, at={(466.9pt,599.2pt)}, anchor=north west, title={Reflectance in situ data vs. acolite}]
\addplot[pts] table[meta=c] {\tD};
\addplot[band] coordinates {(0,0.02937)(0.02,0.04192)(0.04,0.05507)(0.06,0.06903)(0.08,0.08358)(0.10,0.09843)(0.12,0.11338)(0.134,0.12383)(0.134,0.10743)(0.12,0.09918)(0.10,0.08743)(0.08,0.07558)(0.06,0.06343)(0.04,0.05067)(0.02,0.03712)(0,0.02297)} --cycle;
\addplot[reg] coordinates {(0,0.02617)(0.134,0.11563)};
\addplot[oneone] coordinates {(0,0)(0.18,0.18)};
\stats{0.66761{\itshape x}+0.02617}{0.32}{0.034}{0.022}{0.40}{56}
\legA
\end{axis}

% ---- panel 5 ----
\begin{axis}[panel, at={(47.7pt,275.5pt)}, anchor=north west, title={Reflectance in situ data vs. icor}]
\addplot[pts] table[meta=c] {\tE};
\addplot[band] coordinates {(0,0.04122)(0.02,0.04917)(0.04,0.05963)(0.06,0.07308)(0.08,0.08904)(0.10,0.10649)(0.12,0.12494)(0.134,0.13816)(0.134,0.08116)(0.12,0.07694)(0.10,0.07049)(0.08,0.06304)(0.06,0.05408)(0.04,0.04263)(0.02,0.02817)(0,0.01122)} --cycle;
\addplot[reg] coordinates {(0,0.02622)(0.134,0.10966)};
\addplot[oneone] coordinates {(0,0)(0.18,0.18)};
\stats{0.62269{\itshape x}+0.02622}{0.02}{0.124}{0.038}{0.55}{60}
\legB
\end{axis}

% ---- panel 6 ----
\begin{axis}[panel, at={(466.9pt,275.5pt)}, anchor=north west, title={Reflectance in situ data vs. sen2cor}]
\addplot[pts] table[meta=c] {\tF};
\addplot[band] coordinates {(0,0.02921)(0.02,0.04388)(0.04,0.05916)(0.06,0.07523)(0.08,0.0919)(0.10,0.10888)(0.12,0.12595)(0.134,0.13778)(0.134,0.12138)(0.12,0.11155)(0.10,0.09768)(0.08,0.0837)(0.06,0.06943)(0.04,0.05456)(0.02,0.03888)(0,0.02261)} --cycle;
\addplot[reg] coordinates {(0,0.02591)(0.134,0.12958)};
\addplot[oneone] coordinates {(0,0)(0.18,0.18)};
\stats{0.77368{\itshape x}+0.02591}{0.34}{0.036}{0.023}{0.44}{62}
\legB
\end{axis}
\end{tikzpicture}
\end{document}
